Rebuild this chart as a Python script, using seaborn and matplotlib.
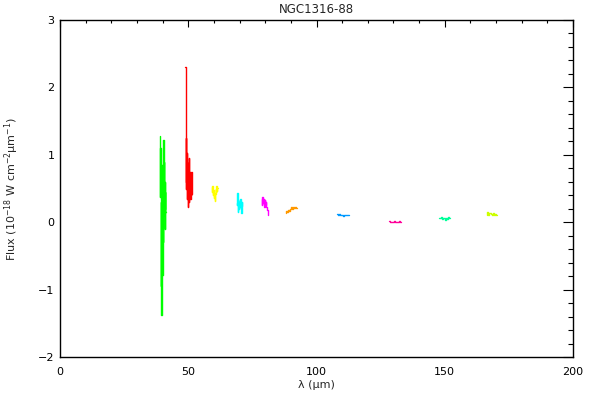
import numpy as np
import pandas as pd
import matplotlib
matplotlib.use("Agg")
import matplotlib.pyplot as plt
import seaborn as sns
from matplotlib.ticker import MultipleLocator

# NGC1316-88 spectrum segments

bands = ["B1", "B2", "B3", "B4", "B5", "B6", "B7", "B8", "B9", "B10"]
band_colors = ["#00ff00", "#ff0000", "#ffff00", "#00ffff", "#ff00ff",
               "#ff9900", "#0099ff", "#ff0099", "#00ff99", "#ccff00"]

wave_b1 = [38.90, 39.02, 39.14, 39.26, 39.38, 39.50, 39.62, 39.74, 39.86, 39.98,
           40.10, 40.22, 40.34, 40.46, 40.58, 40.70, 40.82, 40.94, 41.06, 41.18]
flux_b1 = [1.28, 0.38, 1.10, 0.10, -0.95, 0.30, -1.37, -0.20, 0.85, -0.78,
           0.40, -0.30, 1.22, 0.10, 0.90, 0.20, 0.60, -0.10, 0.45, 0.15]

wave_b2 = [48.90, 49.03, 49.16, 49.29, 49.42, 49.55, 49.68, 49.81, 49.94, 50.07,
           50.20, 50.33, 50.46, 50.59, 50.72, 50.85, 50.98, 51.11, 51.24, 51.37]
flux_b2 = [2.31, 0.50, 1.25, 0.60, 1.02, 0.35, 0.88, 0.23, 0.75, 0.45,
           0.95, 0.30, 0.75, 0.40, 0.62, 0.35, 0.70, 0.40, 0.75, 0.42]

wave_b3 = [59.1, 59.28, 59.46, 59.64, 59.82, 60.0, 60.18, 60.36, 60.54, 60.72,
           60.9, 61.08, 61.26, 61.44]
flux_b3 = [0.52, 0.45, 0.54, 0.40, 0.48, 0.36, 0.44, 0.32, 0.42, 0.50,
           0.45, 0.54, 0.47, 0.51]

wave_b4 = [68.9, 69.07, 69.24, 69.41, 69.58, 69.75, 69.92, 70.09, 70.26, 70.43,
           70.6, 70.77, 70.94, 71.11]
flux_b4 = [0.28, 0.25, 0.44, 0.15, 0.30, 0.20, 0.27, 0.33, 0.22, 0.35,
           0.26, 0.14, 0.30, 0.24]

wave_b5 = [78.6, 78.82, 79.04, 79.26, 79.48, 79.7, 79.92, 80.14, 80.36, 80.58,
           80.8, 81.0]
flux_b5 = [0.35, 0.25, 0.37, 0.28, 0.34, 0.22, 0.33, 0.26, 0.30, 0.22,
           0.18, 0.10]

wave_b6 = [88.1, 88.42, 88.74, 89.06, 89.38, 89.7, 90.02, 90.34, 90.66, 90.98,
           91.3, 91.62, 91.94, 92.26]
flux_b6 = [0.13, 0.16, 0.15, 0.18, 0.17, 0.20, 0.19, 0.22, 0.20, 0.23,
           0.21, 0.22, 0.23, 0.21]

wave_b7 = [108.1, 108.6, 109.1, 109.6, 110.1, 110.6, 111.1, 111.6, 112.1, 112.6]
flux_b7 = [0.12, 0.11, 0.12, 0.10, 0.11, 0.09, 0.10, 0.11, 0.10, 0.11]

wave_b8 = [128.3, 128.8, 129.3, 129.8, 130.3, 130.8, 131.3, 131.8, 132.3, 132.9]
flux_b8 = [0.02, 0.01, 0.01, 0.01, 0.02, 0.01, 0.00, 0.01, 0.02, 0.01]

wave_b9 = [147.9, 148.35, 148.8, 149.25, 149.7, 150.15, 150.6, 151.05, 151.5, 151.95]
flux_b9 = [0.06, 0.06, 0.07, 0.05, 0.06, 0.04, 0.06, 0.05, 0.07, 0.06]

wave_b10 = [166.3, 166.75, 167.2, 167.65, 168.1, 168.55, 169.0, 169.45, 169.9, 170.3]
flux_b10 = [0.10, 0.15, 0.11, 0.14, 0.12, 0.10, 0.13, 0.11, 0.12, 0.10]

waves = [wave_b1, wave_b2, wave_b3, wave_b4, wave_b5, wave_b6, wave_b7, wave_b8, wave_b9, wave_b10]
fluxes = [flux_b1, flux_b2, flux_b3, flux_b4, flux_b5, flux_b6, flux_b7, flux_b8, flux_b9, flux_b10]

df = pd.concat([pd.DataFrame({"wave": w, "flux": f, "band": b})
                for w, f, b in zip(waves, fluxes, bands)], ignore_index=True)

sns.set_style("white")
plt.rcParams["font.family"] = ["DejaVu Sans"]
plt.rcParams["mathtext.default"] = "regular"

fig = plt.figure(figsize=(6, 4), dpi=100)
ax = fig.add_axes([0.1, 0.1075, 0.855, 0.8425])

sns.lineplot(data=df, x="wave", y="flux", hue="band", hue_order=bands,
             palette=band_colors, estimator=None, sort=False, legend=False,
             drawstyle="steps-mid", linewidth=1.0, ax=ax)

ax.set_xlim(0, 200)
ax.set_ylim(-2, 3)
ax.xaxis.set_major_locator(MultipleLocator(50))
ax.xaxis.set_minor_locator(MultipleLocator(10))
ax.yaxis.set_major_locator(MultipleLocator(1))
ax.yaxis.set_minor_locator(MultipleLocator(0.2))

for s in ax.spines.values():
    s.set_color("black")
    s.set_linewidth(1)

ax.tick_params(axis="both", which="both", direction="in", top=True, right=True,
               colors="black", labelsize=8, width=0.8)
ax.tick_params(axis="x", which="major", length=4.8, pad=7)
ax.tick_params(axis="x", which="minor", length=2.4)
ax.tick_params(axis="y", which="major", length=7.2, pad=4)
ax.tick_params(axis="y", which="minor", length=3.6)

ax.set_title("NGC1316-88", fontsize=8.5, pad=5)
ax.set_xlabel("λ (μm)", fontsize=8, labelpad=2)
ax.set_ylabel("Flux (10$^{-18}$ W cm$^{-2}$μm$^{-1}$)", fontsize=8, labelpad=12)

fig.savefig("out.png", dpi=100)
